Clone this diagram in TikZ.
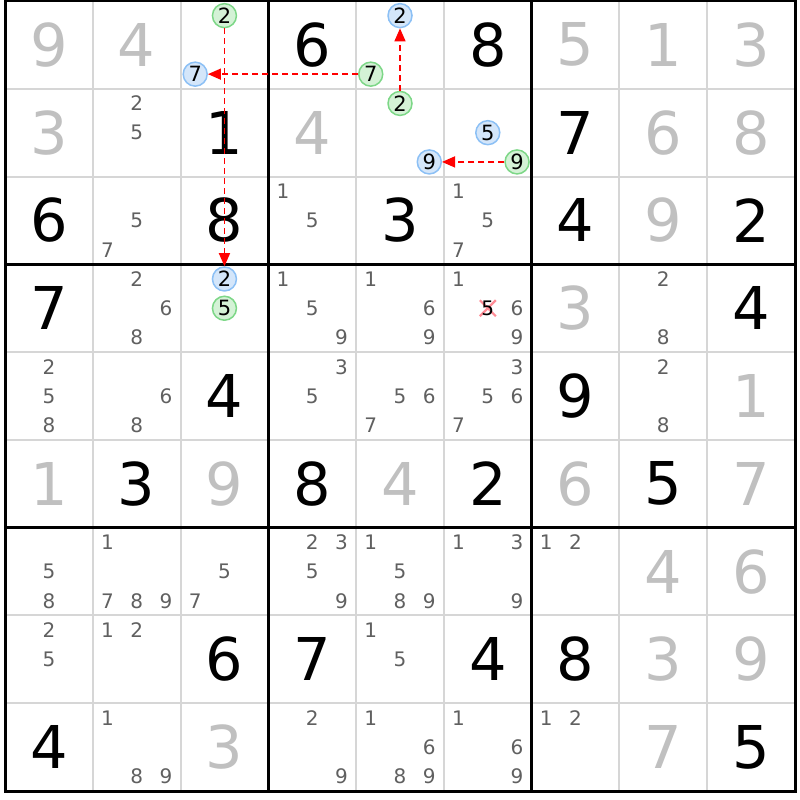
\documentclass[tikz,border=0pt]{standalone}
\usepackage{fontspec}
\setmainfont{DejaVu Sans}
\usetikzlibrary{arrows.meta}
\definecolor{solved}{RGB}{192,192,192}
\definecolor{cand}{RGB}{96,96,96}
\definecolor{thingrid}{RGB}{214,214,214}
\definecolor{bluefill}{RGB}{212,230,250}
\definecolor{bluedraw}{RGB}{140,192,245}
\definecolor{greenfill}{RGB}{212,242,214}
\definecolor{greendraw}{RGB}{125,215,135}
\definecolor{linkred}{RGB}{255,0,0}
\definecolor{crossred}{RGB}{255,140,150}
\tikzset{
  bigdigit/.style={inner sep=0pt, font=\fontsize{59}{59}\selectfont},
  givenstyle/.style={bigdigit, text=black},
  solvedstyle/.style={bigdigit, text=solved},
  candstyle/.style={inner sep=0pt, font=\fontsize{20}{20}\selectfont, text=cand},
  elimstyle/.style={candstyle, text=black},
  bluecirc/.style={circle, draw=bluedraw, fill=bluefill, line width=1.5pt, minimum size=24pt, inner sep=0pt, font=\fontsize{21}{21}\selectfont, text=black},
  greencirc/.style={bluecirc, draw=greendraw, fill=greenfill},
  link/.style={draw=linkred, line width=1.5pt, dash pattern=on 6pt off 4pt, -{Triangle[length=13pt,width=11pt]}},
  thinline/.style={draw=thingrid, line width=2pt},
  thickline/.style={draw=black, line width=3pt},
  crossline/.style={draw=crossred, line width=2.2pt},
}
\begin{document}
\begin{tikzpicture}[x=1pt,y=-1pt]
\useasboundingbox (0,0) rectangle (800,800);
\def\cs{87.78}
% grid
\foreach \i in {1,2,4,5,7,8}{
  \draw[thinline] ({5+\i*\cs},1) -- ({5+\i*\cs},791);
  \draw[thinline] (5,{1+\i*\cs}) -- (795,{1+\i*\cs});
}
\foreach \i in {3,6}{
  \draw[thickline] ({5+\i*\cs},1) -- ({5+\i*\cs},791);
  \draw[thickline] (5,{1+\i*\cs}) -- (795,{1+\i*\cs});
}
\draw[thickline] (5,1) rectangle (795,791);
% givens
\foreach \rw/\cl/\dg in {1/4/6,1/6/8,2/3/1,2/7/7,3/1/6,3/3/8,3/5/3,3/7/4,3/9/2,4/1/7,4/9/4,5/3/4,5/7/9,6/2/3,6/4/8,6/6/2,6/8/5,8/3/6,8/4/7,8/6/4,8/7/8,9/1/4,9/9/5}{
  \node[givenstyle] (n-\rw-\cl) at ({5+(\cl-0.5)*\cs},{1+(\rw-0.5)*\cs}) {\dg};
}
% solved
\foreach \rw/\cl/\dg in {1/1/9,1/2/4,1/7/5,1/8/1,1/9/3,2/1/3,2/4/4,2/8/6,2/9/8,3/8/9,4/7/3,5/9/1,6/1/1,6/3/9,6/5/4,6/7/6,6/9/7,7/8/4,7/9/6,8/8/3,8/9/9,9/3/3,9/8/7}{
  \node[solvedstyle] (n-\rw-\cl) at ({5+(\cl-0.5)*\cs},{1+(\rw-0.5)*\cs}) {\dg};
}
% candidates
\foreach \rw/\cl/\q in {2/2/2,2/2/5,3/2/5,3/2/7,3/4/1,3/4/5,3/6/1,3/6/5,3/6/7,4/2/2,4/2/6,4/2/8,4/4/1,4/4/5,4/4/9,4/5/1,4/5/6,4/5/9,4/6/1,4/6/6,4/6/9,4/8/2,4/8/8,5/1/2,5/1/5,5/1/8,5/2/6,5/2/8,5/4/3,5/4/5,5/5/5,5/5/6,5/5/7,5/6/3,5/6/5,5/6/6,5/6/7,5/8/2,5/8/8,7/1/5,7/1/8,7/2/1,7/2/7,7/2/8,7/2/9,7/3/5,7/3/7,7/4/2,7/4/3,7/4/5,7/4/9,7/5/1,7/5/5,7/5/8,7/5/9,7/6/1,7/6/3,7/6/9,7/7/1,7/7/2,8/1/2,8/1/5,8/2/1,8/2/2,8/5/1,8/5/5,9/2/1,9/2/8,9/2/9,9/4/2,9/4/9,9/5/1,9/5/6,9/5/8,9/5/9,9/6/1,9/6/6,9/6/9,9/7/1,9/7/2}{
  \node[candstyle] (k-\rw-\cl-\q) at ({5+(\cl-1)*\cs+(mod(\q-1,3)+0.5)*\cs/3},{1+(\rw-1)*\cs+(floor((\q-1)/3)+0.5)*\cs/3}) {\q};
}
% eliminated candidate
\coordinate (x-4-6-5) at ({5+5*\cs+1.5*\cs/3},{1+3*\cs+1.5*\cs/3});
\draw[crossline] ([shift={(-8,-8)}]x-4-6-5) -- ([shift={(8,8)}]x-4-6-5);
\draw[crossline] ([shift={(-8,8)}]x-4-6-5) -- ([shift={(8,-8)}]x-4-6-5);
\node[elimstyle] (k-4-6-5) at (x-4-6-5) {5};
% circled candidates
\foreach \rw/\cl/\q in {1/3/7,1/5/2,2/5/9,2/6/5,4/3/2}{
  \node[bluecirc] (b-\rw-\cl-\q) at ({5+(\cl-1)*\cs+(mod(\q-1,3)+0.5)*\cs/3},{1+(\rw-1)*\cs+(floor((\q-1)/3)+0.5)*\cs/3}) {\q};
}
\foreach \rw/\cl/\q in {1/3/2,1/5/7,2/5/2,2/6/9,4/3/5}{
  \node[greencirc] (g-\rw-\cl-\q) at ({5+(\cl-1)*\cs+(mod(\q-1,3)+0.5)*\cs/3},{1+(\rw-1)*\cs+(floor((\q-1)/3)+0.5)*\cs/3}) {\q};
}
% links
\draw[link] (g-1-5-7) -- (b-1-3-7);
\draw[link] (g-2-5-2) -- (b-1-5-2);
\draw[link] (g-1-3-2) -- (b-4-3-2);
\draw[link] (g-2-6-9) -- (b-2-5-9);
\end{tikzpicture}
\end{document}
